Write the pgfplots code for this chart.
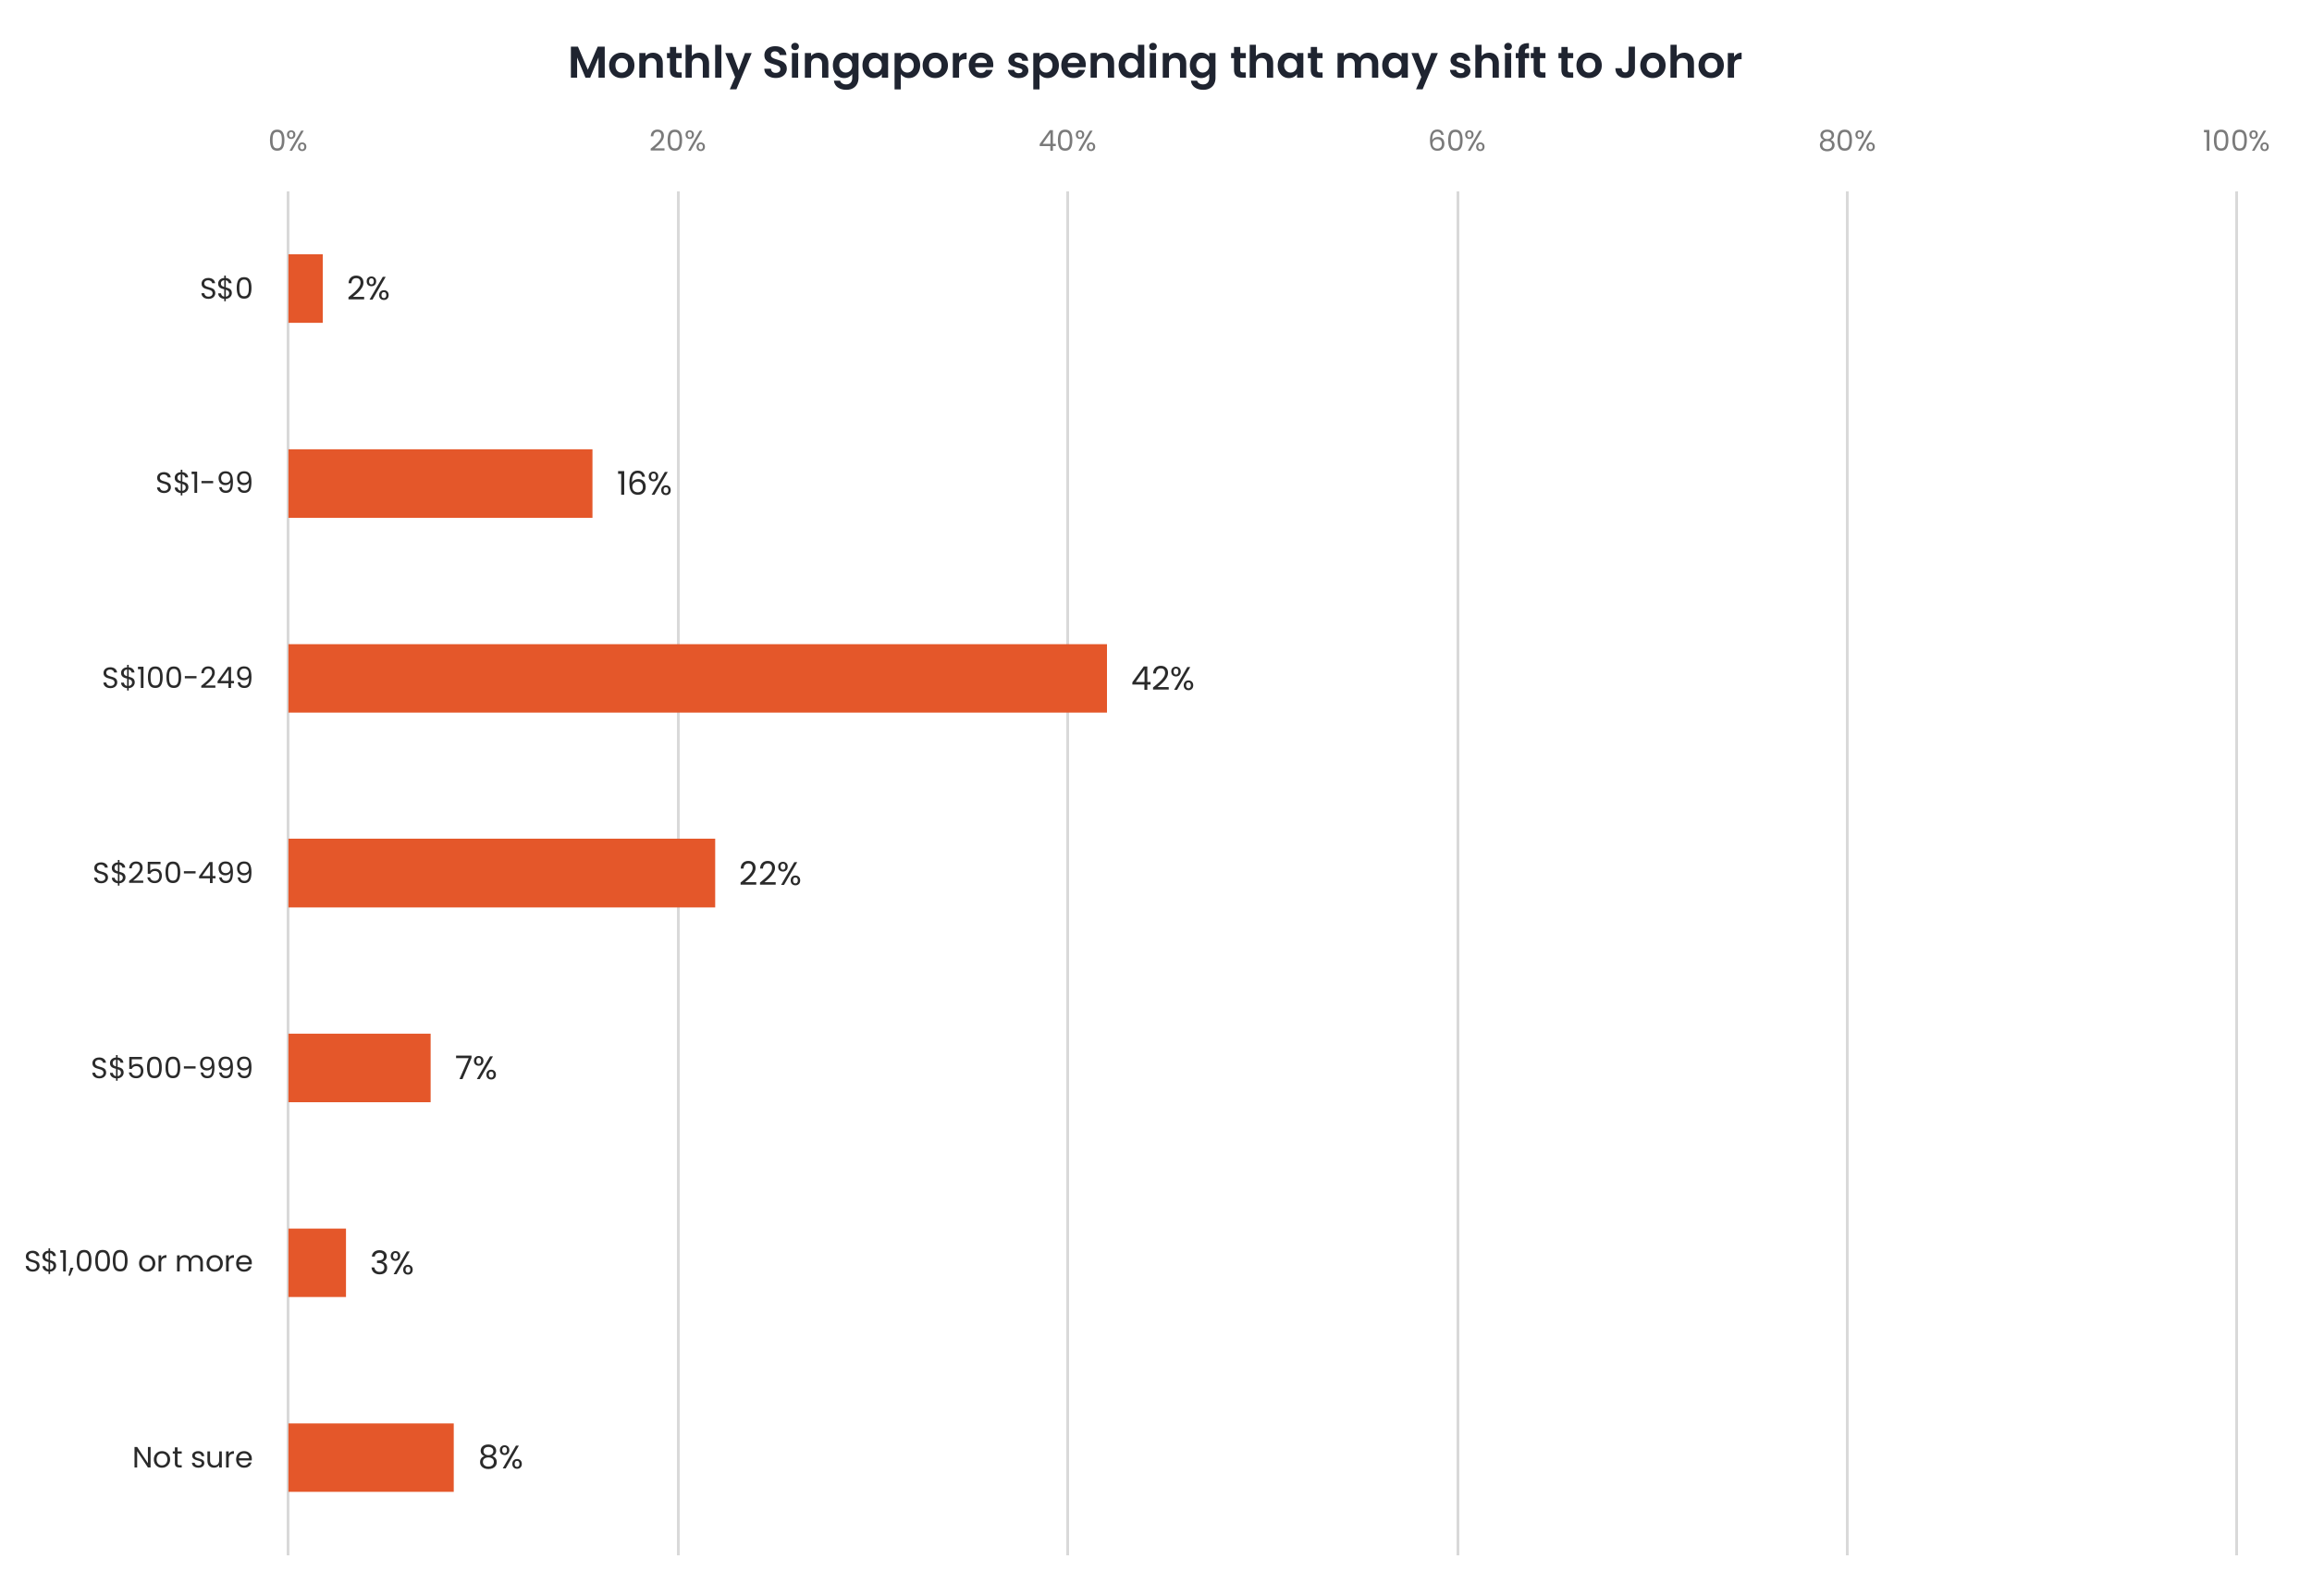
\documentclass[border=0pt]{standalone}
\usepackage{pgfplots}
\pgfplotsset{compat=1.18}
\usepackage{fontspec}
\setmainfont{Poppins}
\newfontfamily\titlefont{Poppins SemiBold}
\definecolor{barc}{HTML}{E4572A}
\definecolor{gridc}{HTML}{D9D9D9}
\definecolor{tickc}{HTML}{7A7A7A}
\definecolor{labc}{HTML}{2A2A2A}
\definecolor{titc}{HTML}{1F2430}
\pgfplotstableread{
x y label
1.76 0 2\%
15.6 1 16\%
42.0 2 42\%
21.9 3 22\%
7.3 4 7\%
2.95 5 3\%
8.48 6 8\%
}\datatable
\begin{document}
\begin{tikzpicture}
\useasboundingbox (-97.3pt,-13.8pt) rectangle (682.7pt,524.7pt);
\begin{axis}[
  at={(0,0)}, anchor=south west,
  scale only axis, width=657.4pt, height=460.2pt,
  xbar, bar width=23.1pt,
  xmin=0, xmax=100, ymin=-0.5, ymax=6.5, y dir=reverse,
  axis line style={draw=none}, major tick style={draw=none},
  xtick={0,20,40,60,80,100},
  xticklabel={\pgfmathprintnumber{\tick}\%},
  xticklabel pos=upper,
  xticklabel style={font=\fontsize{9.7}{11}\selectfont, text=tickc, anchor=base, inner sep=0pt, yshift=13.6pt},
  /pgf/number format/assume math mode=true,
  xmajorgrids, grid style={draw=gridc, line width=0.9pt},
  ytick={0,1,2,3,4,5,6},
  yticklabels={S\$0, S\$1-99, S\$100-249, S\$250-499, S\$500-999, {S\$1,000 or more}, Not sure},
  yticklabel style={font=\fontsize{9.9}{12}\selectfont, text=labc, anchor=east, inner sep=0pt, xshift=-7.2pt},
  nodes near coords, point meta=explicit symbolic,
  nodes near coords style={anchor=west, inner sep=0pt, xshift=8.1pt, font=\fontsize{11}{13}\selectfont, text=labc},
]
\addplot[fill=barc, draw=none] table[x=x, y=y, meta=label]{\datatable};
\end{axis}
\node[anchor=base, font=\fontsize{15}{18}\titlefont, text=titc] at (292.7pt,498.2pt) {Monthly Singapore spending that may shift to Johor};
\end{tikzpicture}
\end{document}
